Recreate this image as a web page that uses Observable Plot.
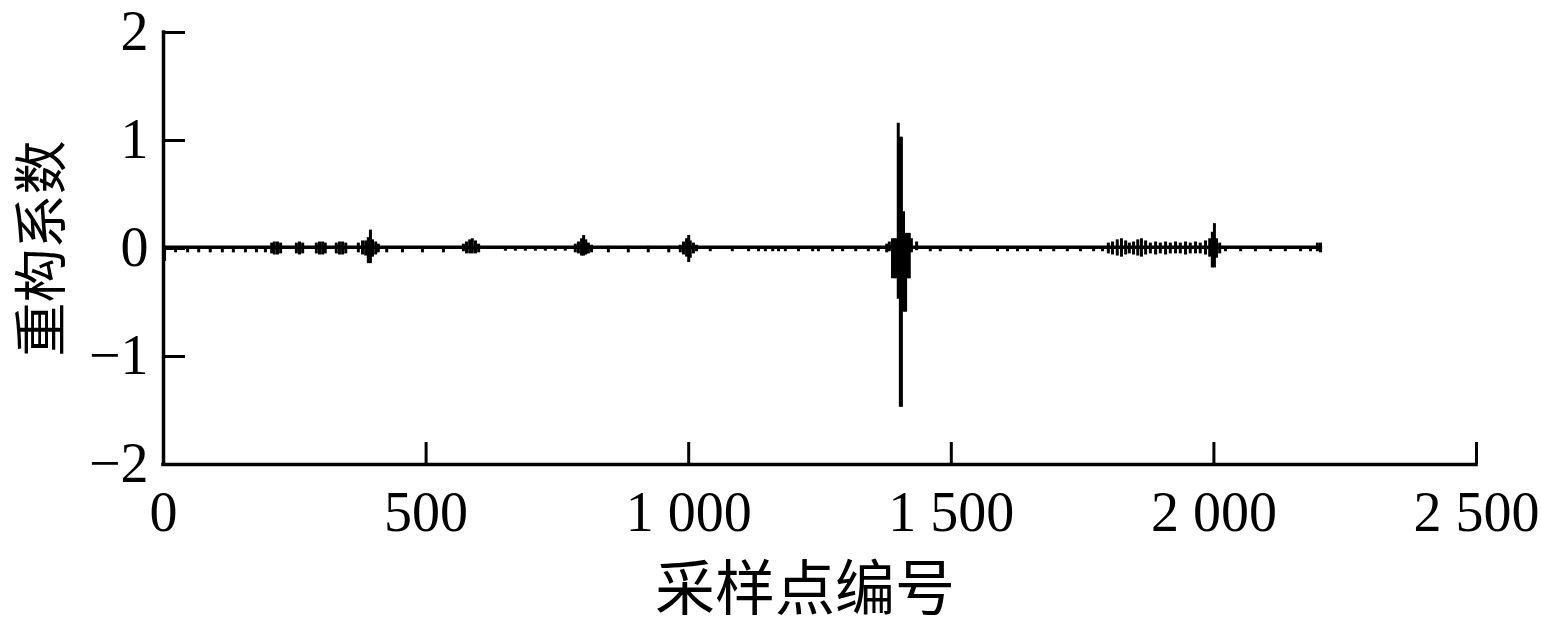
<!DOCTYPE html>
<html><head><meta charset="utf-8">
<script src="https://cdn.jsdelivr.net/npm/d3@7"></script>
<script src="https://cdn.jsdelivr.net/npm/@observablehq/plot@0.6"></script>
<style>html,body{margin:0;padding:0;background:#fff}</style>
</head><body><div id="chart"></div>
<script>
const xTicks = [0, 500, 1000, 1500, 2000, 2500];
const xTickLabels = ["0", "500", "1 000", "1 500", "2 000", "2 500"];
const yTicks = [-2, -1, 0, 1, 2];
const yTickLabels = ["−2", "−1", "0", "1", "2"];
const xTitle = "采样点编号";
const yTitle = "重构系数";
const baselineLevel = 0.012;
const signalLength = 2207;

// envelope of the reconstructed signal: sample index, min, max
const spikeIndex = [
  2,
  23, 46, 67, 89, 112, 133, 156, 177, 194,
  206, 211, 217, 223,
  253, 259, 265,
  291, 297, 303, 308,
  329, 335, 341, 347,
  371, 379, 385, 390, 394, 398, 404, 409,
  425, 455, 493, 533,
  571, 577, 583, 588, 594, 600,
  651, 670, 689, 708, 727, 746, 765,
  784, 790, 796, 800, 804, 809, 815,
  847, 885, 923, 962,
  984, 990, 996, 1000, 1003, 1009, 1015,
  1041, 1083, 1114, 1133, 1146, 1160, 1171, 1184, 1209, 1236, 1247, 1274, 1293, 1318, 1342, 1361,
  1377, 1382,
  1388, 1392, 1396, 1399, 1403, 1405, 1409, 1413, 1417, 1420, 1424,
  1434,
  1460, 1479, 1518, 1537, 1588, 1607, 1626, 1645, 1670, 1695, 1721, 1746, 1771, 1788,
  1799, 1807, 1816, 1824, 1832, 1839, 1847, 1855, 1862, 1870, 1879, 1889, 1898, 1908, 1917, 1927, 1936, 1946, 1955, 1965, 1974, 1984,
  1992, 1997, 2001, 2005, 2011,
  2022, 2051, 2079, 2108, 2136, 2165, 2184,
  2197, 2203
];
const spikeMin = [
  -0.12,
  -0.04, -0.04, -0.04, -0.04, -0.04, -0.04, -0.04, -0.04, -0.04,
  -0.05, -0.06, -0.06, -0.05,
  -0.05, -0.06, -0.05,
  -0.05, -0.06, -0.06, -0.05,
  -0.05, -0.06, -0.06, -0.05,
  -0.04, -0.06, -0.07, -0.14, -0.14, -0.08, -0.06, -0.04,
  -0.04, -0.04, -0.04, -0.04,
  -0.03, -0.05, -0.05, -0.05, -0.05, -0.04,
  -0.025, -0.025, -0.025, -0.025, -0.025, -0.025, -0.025,
  -0.04, -0.05, -0.07, -0.07, -0.06, -0.05, -0.04,
  -0.04, -0.04, -0.04, -0.04,
  -0.04, -0.06, -0.08, -0.13, -0.09, -0.05, -0.03,
  -0.03, -0.03, -0.03, -0.03, -0.03, -0.03, -0.03, -0.03, -0.03, -0.03, -0.03, -0.03, -0.03, -0.03, -0.03, -0.03,
  -0.04, -0.03,
  -0.28, -0.28, -0.28, -0.47, -1.47, -1.47, -0.59, -0.59, -0.28, -0.28, -0.04,
  -0.02,
  -0.03, -0.03, -0.03, -0.03, -0.03, -0.03, -0.03, -0.03, -0.03, -0.03, -0.03, -0.03, -0.03, -0.03,
  -0.05, -0.06, -0.07, -0.08, -0.06, -0.05, -0.06, -0.07, -0.08, -0.06, -0.05, -0.06, -0.05, -0.06, -0.05, -0.05, -0.05, -0.06, -0.05, -0.05, -0.05, -0.06,
  -0.08, -0.18, -0.18, -0.09, -0.05,
  -0.03, -0.03, -0.03, -0.03, -0.03, -0.03, -0.03,
  -0.03, -0.04
];
const spikeMax = [
  0.02,
  0.01, 0.01, 0.01, 0.01, 0.01, 0.01, 0.01, 0.01, 0.01,
  0.05, 0.06, 0.06, 0.05,
  0.05, 0.06, 0.05,
  0.05, 0.06, 0.06, 0.05,
  0.05, 0.06, 0.06, 0.05,
  0.05, 0.07, 0.07, 0.10, 0.17, 0.08, 0.06, 0.04,
  0.01, 0.01, 0.01, 0.01,
  0.04, 0.06, 0.08, 0.09, 0.07, 0.04,
  0.01, 0.01, 0.01, 0.01, 0.01, 0.01, 0.01,
  0.04, 0.06, 0.09, 0.12, 0.08, 0.05, 0.03,
  0.02, 0.02, 0.02, 0.02,
  0.03, 0.06, 0.09, 0.12, 0.07, 0.05, 0.03,
  0.01, 0.01, 0.01, 0.01, 0.01, 0.01, 0.01, 0.01, 0.01, 0.01, 0.01, 0.01, 0.01, 0.01, 0.01, 0.01,
  0.04, 0.06,
  0.09, 0.09, 0.09, 1.16, 1.03, 1.03, 0.34, 0.14, 0.14, 0.14, 0.09,
  0.06,
  0.01, 0.01, 0.01, 0.01, 0.01, 0.01, 0.01, 0.01, 0.01, 0.01, 0.01, 0.01, 0.01, 0.01,
  0.05, 0.06, 0.08, 0.09, 0.07, 0.05, 0.06, 0.08, 0.09, 0.07, 0.05, 0.06, 0.05, 0.06, 0.05, 0.06, 0.05, 0.06, 0.05, 0.06, 0.05, 0.07,
  0.09, 0.15, 0.23, 0.09, 0.05,
  0.01, 0.01, 0.01, 0.01, 0.01, 0.01, 0.01,
  0.05, 0.05
];

const spikes = spikeIndex.map((x, i) => ({x, y1: spikeMin[i], y2: spikeMax[i]}));
const font = "'Liberation Serif','Times New Roman','Noto Sans CJK SC',serif";
const cjk = "'Noto Sans CJK SC','Liberation Serif',serif";

const W = 1541, H = 626, ML = 163, MR = 65, MT = 32, MB = 162;
const frameW = W - ML - MR, frameH = H - MT - MB;
const tickLen = 22;

const chart = Plot.plot({
  width: W, height: H,
  marginLeft: ML, marginRight: MR, marginTop: MT, marginBottom: MB,
  style: {fontFamily: font, background: "#fff", color: "#000", overflow: "visible"},
  x: {domain: [0, 2500]},
  y: {domain: [-2, 2]},
  marks: [
    Plot.ruleY([baselineLevel], {x1: 0, x2: signalLength, stroke: "#000", strokeWidth: 3.5}),
    Plot.ruleX(spikes, {x: "x", y1: "y1", y2: "y2", stroke: "#000", strokeWidth: 3}),
    Plot.ruleX(xTicks, {x: d => d, insetTop: frameH - tickLen, stroke: "#000", strokeWidth: 3}),
    Plot.ruleY(yTicks, {y: d => d, insetRight: frameW - tickLen, stroke: "#000", strokeWidth: 3}),
    Plot.ruleX([0], {stroke: "#000", strokeWidth: 3.5, strokeLinecap: "square"}),
    Plot.ruleY([-2], {x1: 0, x2: 2500, stroke: "#000", strokeWidth: 3.5, strokeLinecap: "square"}),
    Plot.axisX(xTicks, {tickSize: 0, tickPadding: 27, fontSize: 56, fontFamily: font,
      tickFormat: d => xTickLabels[xTicks.indexOf(d)], label: null}),
    Plot.axisY(yTicks, {tickSize: 0, tickPadding: 15, fontSize: 56, fontFamily: font,
      tickFormat: d => yTickLabels[yTicks.indexOf(d)], label: null}),
    Plot.text([xTitle], {text: d => d, frameAnchor: "bottom", dy: 126, dx: -15,
      textAnchor: "middle", lineAnchor: "middle", fontSize: 60, fontFamily: cjk, fill: "#000"}),
    Plot.text([yTitle], {text: d => d, frameAnchor: "left", dx: -120, rotate: -90,
      textAnchor: "middle", lineAnchor: "middle", fontSize: 54, fontFamily: cjk, fill: "#000"})
  ]
});
document.getElementById("chart").appendChild(chart);
</script>
</body></html>
